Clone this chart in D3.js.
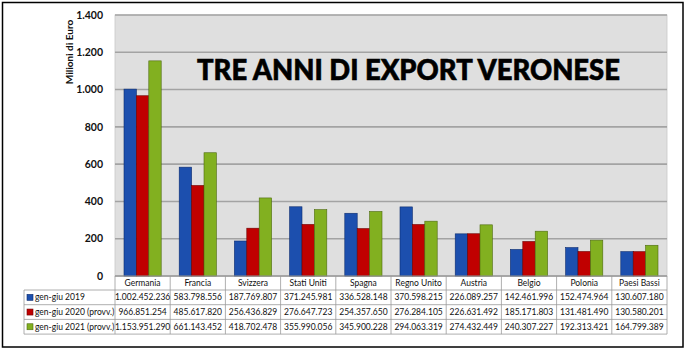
<!DOCTYPE html>
<html>
<head>
<meta charset="utf-8">
<script src="https://cdn.jsdelivr.net/npm/d3@7"></script>
<style>
  body { margin: 0; background: #fff; }
  text { font-family: Lato, "Open Sans", sans-serif; }
</style>
</head>
<body>
<script>
// dati export Verona (euro), primi sei mesi
var categories = ["Germania", "Francia", "Svizzera", "Stati Uniti", "Spagna",
                  "Regno Unito", "Austria", "Belgio", "Polonia", "Paesi Bassi"];
var seriesNames = ["gen-giu 2019", "gen-giu 2020 (provv.)", "gen-giu 2021 (provv.)"];
var values2019 = [1002452236, 583798556, 187769807, 371245981, 336528148,
                  370598215, 226089257, 142461996, 152474964, 130607180];
var values2020 = [966851254, 485617820, 256436829, 276647723, 254357650,
                  276284105, 226631492, 185171803, 131481490, 130580201];
var values2021 = [1153951290, 661143452, 418702478, 355990056, 345900228,
                  294063319, 274432449, 240307227, 192313421, 164799389];
var yTicks = [0, 200, 400, 600, 800, 1000, 1200, 1400];
var seriesColors = ["#1c4fae", "#c00000", "#82b020"];
var seriesEdges = ["#0d2c6e", "#6e0000", "#4d6a10"];

var allValues = [values2019, values2020, values2021];

var W = 688, H = 353;
var plot = {left: 115, right: 667, top: 15, bottom: 276};

var it = d3.formatLocale({decimal: ",", thousands: ".", grouping: [3], currency: ["€", ""]});
var fmt = it.format(",");

var svg = d3.select("body").append("svg")
    .attr("width", W)
    .attr("height", H);

var y = d3.scaleLinear()
    .domain([0, 1400])
    .range([plot.bottom, plot.top]);

var x0 = d3.scaleBand()
    .domain(categories)
    .range([plot.left, plot.right]);

var x1 = d3.scaleBand()
    .domain(seriesNames)
    .range([9, x0.bandwidth() - 9]);

// plot background
svg.append("rect")
    .attr("x", plot.left)
    .attr("y", plot.top)
    .attr("width", plot.right - plot.left)
    .attr("height", plot.bottom - plot.top)
    .attr("fill", "#dfdfdf")
    .attr("stroke", "#c8c8c8")
    .attr("stroke-width", 0.8);

// gridlines + y labels
svg.selectAll(".grid")
    .data(yTicks)
    .enter().append("line")
    .attr("class", "grid")
    .attr("x1", plot.left)
    .attr("x2", plot.right)
    .attr("y1", function(d) { return y(d); })
    .attr("y2", function(d) { return y(d); })
    .attr("stroke", "#a3a3a3")
    .attr("stroke-width", 1.6);

svg.selectAll(".ylab")
    .data(yTicks)
    .enter().append("text")
    .attr("class", "ylab")
    .attr("x", 103)
    .attr("y", function(d) { return y(d); })
    .attr("dy", "0.35em")
    .attr("text-anchor", "end")
    .attr("font-size", 10.5)
    .attr("font-weight", "bold")
    .attr("fill", "#111")
    .text(function(d) { return fmt(d); });

svg.append("text")
    .attr("transform", "translate(73,52) rotate(-90)")
    .attr("text-anchor", "middle")
    .attr("font-size", 10)
    .attr("font-weight", "bold")
    .attr("fill", "#111")
    .text("Milioni di Euro");

// bars
var groups = svg.selectAll(".grp")
    .data(categories)
    .enter().append("g")
    .attr("class", "grp")
    .attr("transform", function(d) { return "translate(" + x0(d) + ",0)"; });

groups.selectAll("rect")
    .data(function(d, i) {
        return seriesNames.map(function(s, j) {
            return {s: s, j: j, v: allValues[j][i] / 1e6};
        });
    })
    .enter().append("rect")
    .attr("x", function(d) { return x1(d.s); })
    .attr("width", x1.bandwidth())
    .attr("y", function(d) { return y(d.v); })
    .attr("height", function(d) { return y(0) - y(d.v); })
    .attr("fill", function(d) { return seriesColors[d.j]; })
    .attr("stroke", function(d) { return seriesEdges[d.j]; })
    .attr("stroke-width", 0.6);

// title
svg.append("text")
    .attr("x", 197)
    .attr("y", 80)
    .attr("font-size", 28)
    .attr("font-weight", "900")
    .attr("fill", "#000")
    .attr("stroke", "#000")
    .attr("stroke-width", 0.6)
    .attr("textLength", 423)
    .attr("lengthAdjust", "spacingAndGlyphs")
    .text("TRE ANNI DI EXPORT VERONESE");

// data table
var tbl = {left: 24, head: 276, top: 290, rowH: 14.7};
var tableBottom = tbl.top + tbl.rowH * 3;
var lineCol = "#9a9a9a";

// header row: category names with dividers
svg.selectAll(".hdr")
    .data(categories)
    .enter().append("text")
    .attr("class", "hdr")
    .attr("x", function(d) { return x0(d) + x0.bandwidth() / 2; })
    .attr("y", (tbl.head + tbl.top) / 2)
    .attr("dy", "0.35em")
    .attr("text-anchor", "middle")
    .attr("font-size", 8.5)
    .attr("fill", "#111")
    .text(function(d) { return d; });

var vlines = categories.map(function(c) { return x0(c); }).concat([plot.right]);
svg.selectAll(".vl")
    .data(vlines)
    .enter().append("line")
    .attr("class", "vl")
    .attr("x1", function(d) { return d; })
    .attr("x2", function(d) { return d; })
    .attr("y1", tbl.head)
    .attr("y2", tableBottom)
    .attr("stroke", lineCol)
    .attr("stroke-width", 0.8);

svg.append("line")
    .attr("x1", tbl.left).attr("x2", tbl.left)
    .attr("y1", tbl.top).attr("y2", tableBottom)
    .attr("stroke", lineCol).attr("stroke-width", 0.8);

svg.selectAll(".hl")
    .data([0, 1, 2, 3])
    .enter().append("line")
    .attr("class", "hl")
    .attr("x1", tbl.left)
    .attr("x2", plot.right)
    .attr("y1", function(d) { return tbl.top + d * tbl.rowH; })
    .attr("y2", function(d) { return tbl.top + d * tbl.rowH; })
    .attr("stroke", lineCol)
    .attr("stroke-width", 0.8);

svg.append("line")
    .attr("x1", plot.left).attr("x2", plot.right)
    .attr("y1", plot.bottom).attr("y2", plot.bottom)
    .attr("stroke", "#9a9a9a").attr("stroke-width", 1.2);

var rows = svg.selectAll(".row")
    .data(seriesNames)
    .enter().append("g")
    .attr("class", "row")
    .attr("transform", function(d, j) { return "translate(0," + (tbl.top + j * tbl.rowH) + ")"; });

rows.append("rect")
    .attr("x", 27)
    .attr("y", tbl.rowH / 2 - 3)
    .attr("width", 6)
    .attr("height", 6)
    .attr("fill", function(d, j) { return seriesColors[j]; })
    .attr("stroke", function(d, j) { return seriesEdges[j]; })
    .attr("stroke-width", 0.6);

rows.append("text")
    .attr("x", 35)
    .attr("y", tbl.rowH / 2)
    .attr("dy", "0.35em")
    .attr("font-size", 8.5)
    .attr("fill", "#111")
    .text(function(d) { return d; });

rows.selectAll(".val")
    .data(function(d, j) { return allValues[j].map(function(v, i) { return {c: categories[i], v: v}; }); })
    .enter().append("text")
    .attr("class", "val")
    .attr("x", function(d) { return x0(d.c) + x0.bandwidth() / 2; })
    .attr("y", tbl.rowH / 2)
    .attr("dy", "0.35em")
    .attr("text-anchor", "middle")
    .attr("font-size", 8.5)
    .attr("fill", "#111")
    .text(function(d) { return fmt(d.v); });

// outer frame
svg.append("rect")
    .attr("x", 2.5)
    .attr("y", 2.5)
    .attr("width", 680.5)
    .attr("height", 344.5)
    .attr("fill", "none")
    .attr("stroke", "#000")
    .attr("stroke-width", 1.5);
</script>
</body>
</html>
